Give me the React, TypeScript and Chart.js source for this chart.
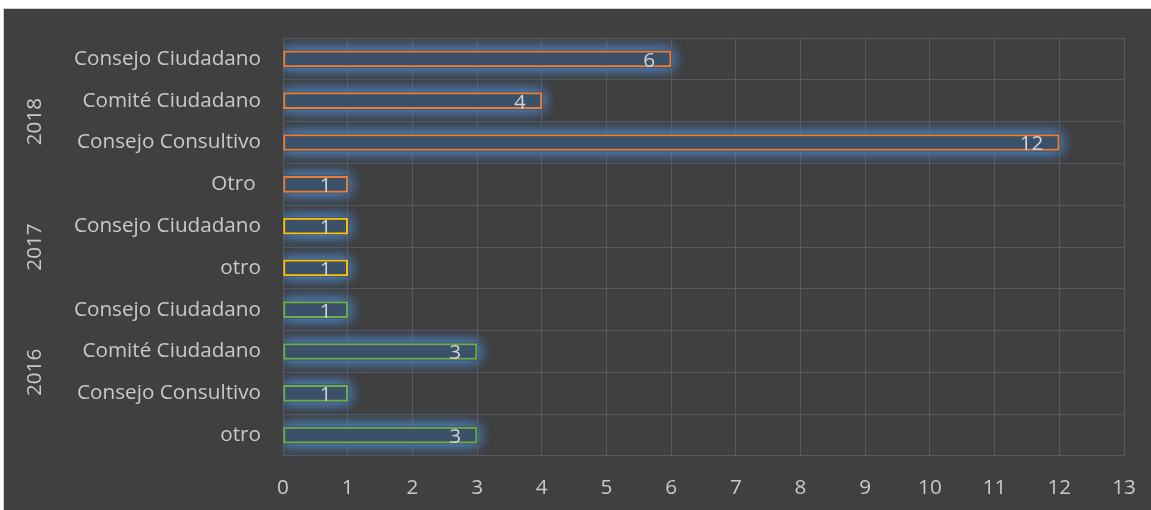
import React, { useEffect, useRef } from "react";
import { Chart, registerables } from "chart.js";

Chart.register(...registerables);

const categories = [
  "Consejo Ciudadano",
  "Comité Ciudadano",
  "Consejo Consultivo",
  "Otro ",
  "Consejo Ciudadano",
  "otro",
  "Consejo Ciudadano",
  "Comité Ciudadano",
  "Consejo Consultivo",
  "otro",
];
const values = [6, 4, 12, 1, 1, 1, 1, 3, 1, 3];
const years = ["2018", "2017", "2016"];
const yearGroupSizes = [4, 2, 4];
const yearColors = ["#ED7D31", "#FFC000", "#70AD47"];
const xMin = 0;
const xMax = 13;

const FONT = "'Open Sans', 'Noto Sans', sans-serif";
const FONT_SIZE = 20.7;
const TEXT = "#C9C9C9";

const borderColors: string[] = [];
yearGroupSizes.forEach((n, g) => {
  for (let i = 0; i < n; i++) borderColors.push(yearColors[g]);
});

const glowPlugin = {
  id: "glow",
  beforeDatasetsDraw(chart: any) {
    const { ctx, chartArea } = chart;
    const meta = chart.getDatasetMeta(0);
    ctx.save();
    ctx.beginPath();
    ctx.rect(chartArea.left, chartArea.top - 20, chartArea.right - chartArea.left + 20, chartArea.bottom - chartArea.top + 40);
    ctx.clip();
    meta.data.forEach((el: any) => {
      const { x, y, base, height } = el.getProps(["x", "y", "base", "height"], true);
      ctx.shadowColor = "rgba(75,135,205,0.9)";
      ctx.shadowBlur = 14;
      ctx.fillStyle = "#3A5169";
      ctx.fillRect(base, y - height / 2 - 1, x - base + 1, height + 2);
      ctx.fillRect(base, y - height / 2 - 1, x - base + 1, height + 2);
    });
    ctx.restore();
  },
};

const labelPlugin = {
  id: "valueLabels",
  afterDatasetsDraw(chart: any) {
    const { ctx } = chart;
    const meta = chart.getDatasetMeta(0);
    ctx.save();
    ctx.font = `${FONT_SIZE}px ${FONT}`;
    ctx.fillStyle = "#D2D2D2";
    ctx.textAlign = "right";
    ctx.textBaseline = "middle";
    meta.data.forEach((el: any, i: number) => {
      ctx.fillText(String(values[i]), el.x - 16, el.y + 2);
    });
    ctx.restore();
  },
};

const yearPlugin = {
  id: "yearLabels",
  afterDraw(chart: any) {
    const { ctx } = chart;
    const yScale = chart.scales.y;
    ctx.save();
    ctx.font = `${FONT_SIZE}px ${FONT}`;
    ctx.fillStyle = TEXT;
    ctx.textAlign = "center";
    ctx.textBaseline = "middle";
    let start = 0;
    years.forEach((yr, g) => {
      const end = start + yearGroupSizes[g] - 1;
      const cy = (yScale.getPixelForValue(start) + yScale.getPixelForValue(end)) / 2;
      ctx.save();
      ctx.translate(31, cy);
      ctx.rotate(-Math.PI / 2);
      ctx.fillText(yr, 0, 0);
      ctx.restore();
      start = end + 1;
    });
    ctx.restore();
  },
};

export default function App() {
  const canvasRef = useRef<HTMLCanvasElement | null>(null);

  useEffect(() => {
    document.body.style.margin = "0";
    const chart = new Chart(canvasRef.current as HTMLCanvasElement, {
      type: "bar",
      data: {
        labels: categories,
        datasets: [
          {
            data: values,
            backgroundColor: "#3A5169",
            borderColor: borderColors,
            borderWidth: 2,
            borderSkipped: false,
            barThickness: 16,
          },
        ],
      },
      options: {
        indexAxis: "y",
        animation: false,
        responsive: true,
        maintainAspectRatio: false,
        layout: { padding: { top: 29, right: 27, left: 0, bottom: 0 } },
        plugins: {
          legend: { display: false },
          tooltip: { enabled: false },
        },
        scales: {
          x: {
            min: xMin,
            max: xMax,
            ticks: {
              stepSize: 1,
              color: TEXT,
              font: { family: FONT, size: FONT_SIZE },
              padding: 20,
            },
            grid: { color: "#595959", drawTicks: false },
            border: { display: false },
            afterFit(scale: any) {
              scale.height = 54;
              scale.paddingLeft = 0;
              scale.paddingRight = 0;
            },
          },
          y: {
            ticks: {
              color: TEXT,
              font: { family: FONT, size: FONT_SIZE },
              padding: 22,
              autoSkip: false,
            },
            grid: { color: "#595959", drawTicks: false },
            border: { display: false },
            afterFit(scale: any) {
              scale.width = 279;
              scale.paddingTop = 0;
              scale.paddingBottom = 0;
            },
          },
        },
      },
      plugins: [glowPlugin, labelPlugin, yearPlugin],
    });
    return () => chart.destroy();
  }, []);

  return (
    <div style={{ position: "relative", width: 1151, height: 510, background: "#ffffff" }}>
      <div
        style={{
          position: "absolute",
          left: 3,
          top: 8,
          width: 1148,
          height: 502,
          background: "#404040",
          borderLeft: "1px solid #d0d0d0",
          borderTop: "1px solid #d0d0d0",
          boxSizing: "border-box",
        }}
      >
        <div style={{ position: "absolute", left: 0, top: 0, width: 1147, height: 501 }}>
          <canvas ref={canvasRef} />
        </div>
      </div>
    </div>
  );
}
